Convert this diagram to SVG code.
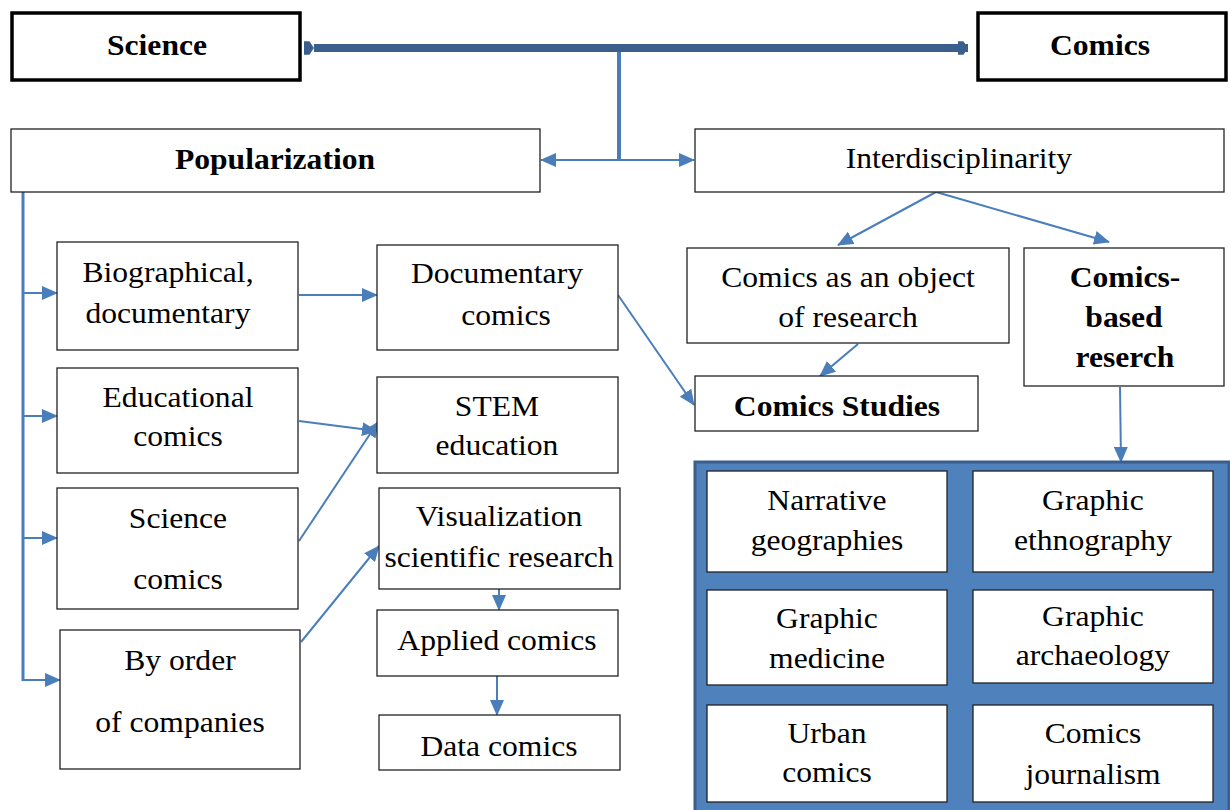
<svg xmlns="http://www.w3.org/2000/svg" width="1230" height="810" viewBox="0 0 1230 810">
<style>
.box{fill:#fff;stroke:#222;stroke-width:1.3}
.tbox{fill:#fff;stroke:#000;stroke-width:3.5}
.t{font-family:"Liberation Serif","Times New Roman",serif;font-size:29px;fill:#000;text-anchor:middle;transform-box:fill-box;transform-origin:center;transform:scaleX(1.09)}
.b{font-weight:bold}
.ln{fill:none;stroke:#4A7EBB;stroke-width:2}
</style>
<defs>
<marker id="ar" markerUnits="userSpaceOnUse" markerWidth="16" markerHeight="14" refX="15" refY="7" orient="auto">
<path d="M0,0 L16,7 L0,14 Z" fill="#4A7EBB"/>
</marker>
<marker id="dm" markerUnits="userSpaceOnUse" markerWidth="12" markerHeight="16" refX="10" refY="8" orient="auto">
<path d="M0,2 L5,2 L9,8 L5,14 L0,14 Z" fill="#3B5F8C" stroke="#3B5F8C" stroke-width="1.5" stroke-linejoin="round"/>
</marker>
</defs>
<g id="connectors">
<line x1="314" y1="48" x2="968" y2="48" stroke="#3B5F8C" stroke-width="8" marker-start="url(#dm)" marker-end="url(#dm)"/>
<line x1="619" y1="52" x2="619" y2="161" stroke="#4A7EBB" stroke-width="4"/>
<line class="ln" x1="619" y1="160" x2="541" y2="160" marker-end="url(#ar)"/>
<line class="ln" x1="619" y1="160" x2="694" y2="160" marker-end="url(#ar)"/>
<line x1="23" y1="192" x2="23" y2="681" stroke="#4A7EBB" stroke-width="3"/>
<line class="ln" x1="23" y1="293" x2="57" y2="293" marker-end="url(#ar)"/>
<line class="ln" x1="23" y1="416" x2="57" y2="416" marker-end="url(#ar)"/>
<line class="ln" x1="23" y1="538" x2="57" y2="538" marker-end="url(#ar)"/>
<line class="ln" x1="23" y1="680" x2="60" y2="680" marker-end="url(#ar)"/>
<line class="ln" x1="299" y1="295" x2="377" y2="295" marker-end="url(#ar)"/>
<line class="ln" x1="299" y1="421" x2="377" y2="431" marker-end="url(#ar)"/>
<line class="ln" x1="299" y1="541" x2="378" y2="422" marker-end="url(#ar)"/>
<line class="ln" x1="301" y1="642" x2="379" y2="546" marker-end="url(#ar)"/>
<line class="ln" x1="499" y1="589" x2="499" y2="610" marker-end="url(#ar)"/>
<line class="ln" x1="497" y1="676" x2="497" y2="715" marker-end="url(#ar)"/>
<line class="ln" x1="618" y1="295" x2="694" y2="405" marker-end="url(#ar)"/>
<line class="ln" x1="936" y1="192" x2="838" y2="245" marker-end="url(#ar)"/>
<line class="ln" x1="936" y1="192" x2="1109" y2="242" marker-end="url(#ar)"/>
<line class="ln" x1="858" y1="344" x2="820" y2="376" marker-end="url(#ar)"/>
<line class="ln" x1="1120" y1="387" x2="1121" y2="462" marker-end="url(#ar)"/>
</g>
<g id="science"><rect class="tbox" x="12" y="13" width="288" height="67"/><text class="t b" x="157" y="55">Science</text></g>
<g id="comics"><rect class="tbox" x="978" y="13" width="248" height="67"/><text class="t b" x="1100" y="55">Comics</text></g>
<g id="popularization"><rect class="box" x="11" y="129" width="529" height="63"/><text class="t b" x="275" y="169">Popularization</text></g>
<g id="interdisciplinarity"><rect class="box" x="695" y="129" width="529" height="63"/><text class="t" x="959" y="168">Interdisciplinarity</text></g>
<g id="biographical"><rect class="box" x="57" y="242" width="241" height="108"/><text class="t" x="168" y="282">Biographical,</text><text class="t" x="168" y="323">documentary</text></g>
<g id="educational"><rect class="box" x="57" y="368" width="241" height="105"/><text class="t" x="178" y="407">Educational</text><text class="t" x="178" y="446">comics</text></g>
<g id="science-comics"><rect class="box" x="57" y="488" width="241" height="121"/><text class="t" x="178" y="528">Science</text><text class="t" x="178" y="589">comics</text></g>
<g id="by-order"><rect class="box" x="60" y="630" width="240" height="139"/><text class="t" x="180" y="670">By order</text><text class="t" x="180" y="732">of companies</text></g>
<g id="documentary"><rect class="box" x="377" y="245" width="241" height="105"/><text class="t" x="497" y="283">Documentary</text><text class="t" x="506" y="325">comics</text></g>
<g id="stem"><rect class="box" x="377" y="377" width="241" height="96"/><text class="t" x="497" y="416">STEM</text><text class="t" x="497" y="455">education</text></g>
<g id="visualization"><rect class="box" x="379" y="488" width="241" height="101"/><text class="t" x="499" y="526">Visualization</text><text class="t" x="499" y="567">scientific research</text></g>
<g id="applied"><rect class="box" x="377" y="610" width="241" height="66"/><text class="t" x="497" y="650">Applied comics</text></g>
<g id="data"><rect class="box" x="379" y="715" width="241" height="55"/><text class="t" x="499" y="756">Data comics</text></g>
<g id="object"><rect class="box" x="687" y="248" width="322" height="95"/><text class="t" x="848" y="287">Comics as an object</text><text class="t" x="848" y="327">of research</text></g>
<g id="comics-based"><rect class="box" x="1024" y="248" width="200" height="138"/><text class="t b" x="1125" y="287">Comics-</text><text class="t b" x="1124" y="327">based</text><text class="t b" x="1125" y="367">reserch</text></g>
<g id="comics-studies"><rect class="box" x="695" y="376" width="283" height="55"/><text class="t b" x="837" y="416">Comics Studies</text></g>
<g id="panel"><rect x="695" y="462" width="534" height="350" fill="#4F81BD" stroke="#3B5F8C" stroke-width="3"/></g>
<g id="narrative"><rect class="box" x="707" y="471" width="240" height="101"/><text class="t" x="827" y="510">Narrative</text><text class="t" x="827" y="550">geographies</text></g>
<g id="ethnography"><rect class="box" x="973" y="471" width="240" height="101"/><text class="t" x="1093" y="510">Graphic</text><text class="t" x="1093" y="550">ethnography</text></g>
<g id="medicine"><rect class="box" x="707" y="590" width="240" height="95"/><text class="t" x="827" y="628">Graphic</text><text class="t" x="827" y="668">medicine</text></g>
<g id="archaeology"><rect class="box" x="973" y="590" width="240" height="93"/><text class="t" x="1093" y="626">Graphic</text><text class="t" x="1093" y="665">archaeology</text></g>
<g id="urban"><rect class="box" x="707" y="705" width="240" height="97"/><text class="t" x="827" y="743">Urban</text><text class="t" x="827" y="782">comics</text></g>
<g id="journalism"><rect class="box" x="973" y="705" width="240" height="97"/><text class="t" x="1093" y="743">Comics</text><text class="t" x="1093" y="784">journalism</text></g>
</svg>
